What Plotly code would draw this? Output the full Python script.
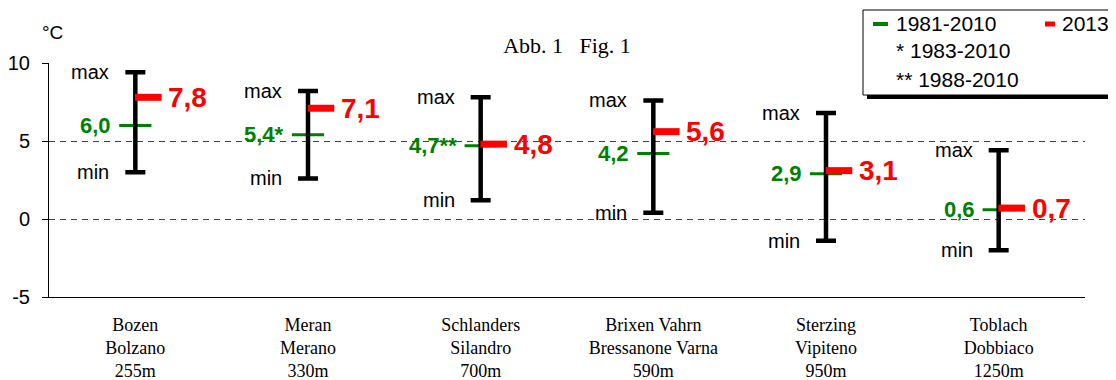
import plotly.graph_objects as go

# ---------------- data ----------------
names_de = ["Bozen", "Meran", "Schlanders", "Brixen Vahrn", "Sterzing", "Toblach"]
names_it = ["Bolzano", "Merano", "Silandro", "Bressanone Varna", "Vipiteno", "Dobbiaco"]
altitude = ["255m", "330m", "700m", "590m", "950m", "1250m"]
clim_1981_2010 = [6.0, 5.4, 4.7, 4.2, 2.9, 0.6]
clim_note = ["", "*", "**", "", "", ""]
mean_2013 = [7.8, 7.1, 4.8, 5.6, 3.1, 0.7]
t_max = [9.4, 8.2, 7.8, 7.6, 6.8, 4.4]
t_min = [3.0, 2.6, 1.2, 0.4, -1.4, -2.0]
y_ticks = [-5, 0, 5, 10]

# ---------------- layout geometry (screen pixels) ----------------
SW, SH = 1116, 380          # browser window
OFF = 8                     # default page body margin
W, H = SW - OFF, SH - OFF   # figure size
P_LEFT, P_RIGHT, P_TOP, P_BOTTOM = 49, 1085, 63, 297   # plot area on screen
ML, MR, MT, MB = P_LEFT - OFF, SW - P_RIGHT, P_TOP - OFF, SH - P_BOTTOM
PW, PH = P_RIGHT - P_LEFT, P_BOTTOM - P_TOP

GREEN = "#008000"
RED = "#FF0000"
SANS = "Liberation Sans, Arial, sans-serif"
SERIF = "Liberation Serif, Times New Roman, serif"

n = len(names_de)
xs = list(range(n))
cat_px = PW / n
red_off = 13 / cat_px  # red dash sits right of the bar


def fmt(v):
    return f"{v:.1f}".replace(".", ",")


def px_x(p):
    return (p - P_LEFT) / PW


def px_y(p):
    return (P_BOTTOM - p) / PH


fig = go.Figure()

# climate mean (green dashes)
fig.add_trace(go.Scatter(
    x=xs, y=clim_1981_2010, mode="markers",
    marker=dict(symbol="line-ew", size=23, color=GREEN,
                line=dict(color=GREEN, width=3)),
    showlegend=False, hoverinfo="skip"))

# min-max bars
fig.add_trace(go.Scatter(
    x=xs, y=t_min, mode="markers",
    marker=dict(size=1, color="rgba(0,0,0,0)"),
    error_y=dict(type="data", symmetric=False,
                 array=[mx - mn for mx, mn in zip(t_max, t_min)],
                 arrayminus=[0] * n, color="black", thickness=4.5, width=10),
    showlegend=False, hoverinfo="skip"))

# 2013 (red dashes)
fig.add_trace(go.Scatter(
    x=[x + red_off for x in xs], y=mean_2013, mode="markers",
    marker=dict(symbol="line-ew", size=19, color=RED,
                line=dict(color=RED, width=7)),
    showlegend=False, hoverinfo="skip"))

ann = []
for i in xs:
    ann.append(dict(x=i, y=t_max[i], text="max", xanchor="right", yanchor="middle",
                    xshift=-24, showarrow=False,
                    font=dict(family=SANS, size=20, color="black")))
    ann.append(dict(x=i, y=t_min[i], text="min", xanchor="right", yanchor="middle",
                    xshift=-24, showarrow=False,
                    font=dict(family=SANS, size=20, color="black")))
    ann.append(dict(x=i, y=clim_1981_2010[i], text="<b>" + fmt(clim_1981_2010[i]) + clim_note[i] + "</b>",
                    xanchor="right", yanchor="middle", xshift=-22, showarrow=False,
                    font=dict(family=SANS, size=22, color=GREEN)))
    ann.append(dict(x=i, y=mean_2013[i], text="<b>" + fmt(mean_2013[i]) + "</b>",
                    xanchor="left", yanchor="middle", xshift=31, showarrow=False,
                    font=dict(family=SANS, size=28, color=RED)))

# unit label
ann.append(dict(xref="paper", yref="paper", x=px_x(52), y=px_y(32), text="°C",
                xanchor="center", yanchor="middle", showarrow=False,
                font=dict(family=SANS, size=19, color="black")))

# legend (box drawn as shapes, entries as text)
lx0, ly0, lx1, ly1 = 863, 10, 1111, 95
shapes = [
    dict(type="rect", xref="paper", yref="paper",
         x0=px_x(lx0 + 4), x1=px_x(lx1 + 4), y0=px_y(ly1 + 4), y1=px_y(ly0 + 4),
         fillcolor="black", line=dict(width=0), layer="above"),
    dict(type="rect", xref="paper", yref="paper",
         x0=px_x(lx0), x1=px_x(lx1), y0=px_y(ly1), y1=px_y(ly0),
         fillcolor="white", line=dict(color="black", width=1), layer="above"),
    dict(type="line", xref="paper", yref="paper",
         x0=px_x(873), x1=px_x(888), y0=px_y(24), y1=px_y(24),
         line=dict(color=GREEN, width=4), layer="above"),
    dict(type="line", xref="paper", yref="paper",
         x0=px_x(1045), x1=px_x(1055), y0=px_y(24), y1=px_y(24),
         line=dict(color=RED, width=5), layer="above"),
]
for txt, xp, yp in [("1981-2010", 894, 24), ("2013", 1060, 24),
                    ("* 1983-2010", 894, 51), ("** 1988-2010", 894, 79)]:
    ann.append(dict(xref="paper", yref="paper", x=px_x(xp), y=px_y(yp), text=txt,
                    xanchor="left", yanchor="middle", showarrow=False,
                    font=dict(family=SANS, size=21, color="black")))

tick_text = [f"{a}<br>{b}<br>{c}" for a, b, c in zip(names_de, names_it, altitude)]
bounds = [i - 0.5 for i in range(n + 1)]
xr = [-0.5, n - 0.5]
yr = [-5, 10]

fig.update_layout(
    width=W, height=H,
    margin=dict(l=ML, r=MR, t=MT, b=MB, autoexpand=False),
    paper_bgcolor="white", plot_bgcolor="white",
    showlegend=False,
    title=dict(text="Abb. 1   Fig. 1", x=px_x(567), xref="paper", xanchor="center",
               y=1 - (45 - OFF) / H, yref="container", yanchor="middle",
               font=dict(family=SERIF, size=22, color="black"), automargin=False),
    xaxis=dict(range=xr, tickvals=xs, ticktext=tick_text, ticks="",
               showgrid=False, zeroline=False, showline=True, linecolor="black",
               linewidth=1, tickfont=dict(family=SERIF, size=18, color="black"),
               ticklabelstandoff=11, automargin=False),
    xaxis2=dict(range=xr, overlaying="x", tickvals=bounds, ticks="outside", ticklen=4,
                tickcolor="black", showticklabels=False, showgrid=False,
                zeroline=False, showline=False, side="bottom", automargin=False),
    xaxis3=dict(range=xr, overlaying="x", tickvals=bounds, ticks="inside", ticklen=4,
                tickcolor="black", showticklabels=False, showgrid=False,
                zeroline=False, showline=False, side="bottom", automargin=False),
    yaxis=dict(range=yr, tickvals=y_ticks, ticktext=[str(v) for v in y_ticks],
               ticks="outside", ticklen=6, tickcolor="black",
               showgrid=True, gridcolor="#444444", griddash="6px,5px", gridwidth=1,
               zeroline=False, showline=True, linecolor="black", linewidth=1,
               tickfont=dict(family=SANS, size=20, color="black"),
               ticklabelstandoff=8, automargin=False),
    yaxis2=dict(range=yr, overlaying="y", tickvals=y_ticks, ticks="inside", ticklen=6,
                tickcolor="black", showticklabels=False, showgrid=False,
                zeroline=False, showline=False, side="left", automargin=False),
    annotations=ann,
    shapes=shapes,
)

fig.write_html("out.html")
